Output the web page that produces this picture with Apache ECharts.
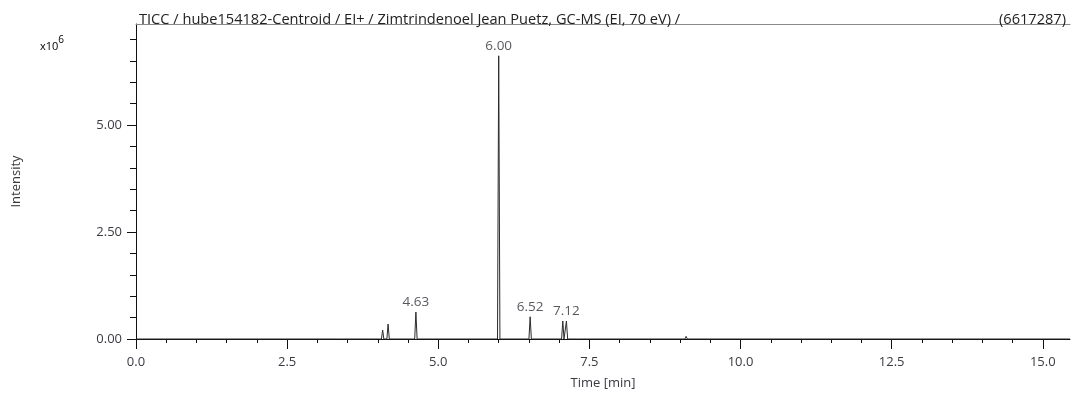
<!DOCTYPE html>
<html>
<head>
<meta charset="utf-8">
<script src="https://cdn.jsdelivr.net/npm/echarts@6/dist/echarts.min.js"></script>
<style>
  html, body { margin: 0; padding: 0; background: #fff; }
  #chart { width: 1071px; height: 399px; }
</style>
</head>
<body>
<div id="chart"></div>
<script>
// Total ion current trace: retention time (min) and intensity (counts)
const traceTime = [
  0.00, 3.36, 3.38, 3.40, 3.90, 3.92, 3.94,
  4.06, 4.08, 4.10, 4.15, 4.17, 4.19,
  4.61, 4.63, 4.65,
  5.98, 6.00, 6.02,
  6.50, 6.52, 6.54,
  7.04, 7.06, 7.08, 7.10, 7.12, 7.14,
  7.28, 7.30, 7.32,
  9.08, 9.10, 9.12,
  15.45
];
const traceIntensity = [
  0, 0, 30000, 0, 0, 20000, 0,
  0, 210000, 0, 0, 350000, 0,
  0, 630000, 0,
  0, 6617287, 0,
  0, 520000, 0,
  0, 420000, 0, 0, 420000, 0,
  0, 30000, 0,
  0, 60000, 0,
  0
];
// Peaks annotated with their retention time
const labelledPeaks = [4.63, 6.00, 6.52, 7.12];
const basePeakIntensity = 6617287;

// Axis ticks
const xMajorTicks = [0, 2.5, 5.0, 7.5, 10.0, 12.5, 15.0];
const xMinorTicks = [0.5, 1.0, 1.5, 2.0, 3.0, 3.5, 4.0, 4.5, 5.5, 6.0, 6.5, 7.0,
  8.0, 8.5, 9.0, 9.5, 10.5, 11.0, 11.5, 12.0, 13.0, 13.5, 14.0, 14.5];
const yMajorTicks = [0, 2.5e6, 5.0e6];
const yMinorTicks = [0.5e6, 1.0e6, 1.5e6, 2.0e6, 3.0e6, 3.5e6, 4.0e6, 4.5e6, 5.5e6, 6.0e6, 6.5e6, 7.0e6];

const X_MAX = 15.45;
const Y_MAX = 7.36e6;
const FONT = '"Open Sans", "Noto Sans", sans-serif';
const LABEL_COLOR = '#3a3a42';
const GRID_BOX = { left: 136, right: 1, top: 24, bottom: 60, containLabel: false };

// Apex points of the annotated peaks, taken from the trace
const peakLabelData = labelledPeaks.map(t => {
  const i = traceTime.indexOf(t);
  return [traceTime[i], traceIntensity[i]];
});

const chart = echarts.init(document.getElementById('chart'), null, { renderer: 'canvas' });

const axisX = (grid, extra) => Object.assign({
  type: 'value', min: 0, max: X_MAX, gridIndex: grid, splitLine: { show: false }
}, extra);
const axisY = (grid, extra) => Object.assign({
  type: 'value', min: 0, max: Y_MAX, gridIndex: grid, splitLine: { show: false }
}, extra);

chart.setOption({
  animation: false,
  backgroundColor: '#ffffff',
  textStyle: { fontFamily: FONT },
  title: [
    {
      text: 'TICC / hube154182-Centroid / EI+ / Zimtrindenoel Jean Puetz, GC-MS (EI, 70 eV) /',
      left: 134, top: 7,
      textStyle: { fontFamily: FONT, fontSize: 14.6, fontWeight: 'normal', color: '#222' }
    },
    {
      text: '(' + basePeakIntensity + ')',
      right: 0, top: 7,
      textStyle: { fontFamily: FONT, fontSize: 14.6, fontWeight: 'normal', color: '#222' }
    }
  ],
  // grid 0 carries the trace and major ticks, grid 1 (same box) the minor ticks
  grid: [Object.assign({}, GRID_BOX), Object.assign({}, GRID_BOX)],
  xAxis: [
    axisX(0, {
      position: 'bottom',
      name: 'Time [min]', nameLocation: 'middle', nameGap: 38,
      nameTextStyle: { fontFamily: FONT, fontSize: 13, color: LABEL_COLOR },
      axisLine: { show: true, onZero: false, lineStyle: { color: '#111', width: 1 } },
      axisTick: { show: true, inside: false, length: 10, customValues: xMajorTicks, lineStyle: { color: '#111' } },
      axisLabel: { show: true, margin: 17, customValues: xMajorTicks, fontSize: 13, color: LABEL_COLOR,
        formatter: v => v.toFixed(1) }
    }),
    axisX(0, {
      position: 'top',
      axisLine: { show: true, onZero: false, lineStyle: { color: '#8a8a8a', width: 1 } },
      axisTick: { show: false },
      axisLabel: { show: false }
    }),
    axisX(1, {
      position: 'bottom',
      axisLine: { show: false, onZero: false },
      axisTick: { show: true, inside: false, length: 4, customValues: xMinorTicks, lineStyle: { color: '#111' } },
      axisLabel: { show: false }
    })
  ],
  yAxis: [
    axisY(0, {
      position: 'left',
      name: 'Intensity', nameLocation: 'middle', nameGap: 113, nameRotate: 90,
      nameTextStyle: { fontFamily: FONT, fontSize: 13, color: LABEL_COLOR },
      axisLine: { show: true, onZero: false, lineStyle: { color: '#111', width: 1 } },
      axisTick: { show: true, inside: false, length: 9, customValues: yMajorTicks, lineStyle: { color: '#111' } },
      axisLabel: { show: true, margin: 14, customValues: yMajorTicks, fontSize: 13, color: LABEL_COLOR,
        formatter: v => (v / 1e6).toFixed(2) }
    }),
    axisY(1, {
      position: 'left',
      axisLine: { show: false, onZero: false },
      axisTick: { show: true, inside: false, length: 6, customValues: yMinorTicks, lineStyle: { color: '#111' } },
      axisLabel: { show: false }
    })
  ],
  graphic: [
    {
      type: 'text', left: 40, top: 35,
      style: {
        text: '{b|x10}{s|6}',
        rich: {
          b: { fontFamily: FONT, fontSize: 11, color: LABEL_COLOR, padding: [6, 0, 0, 0] },
          s: { fontFamily: FONT, fontSize: 10, color: LABEL_COLOR, verticalAlign: 'top', padding: [0, 0, 4, 0] }
        }
      }
    }
  ],
  series: [
    {
      type: 'line',
      xAxisIndex: 0, yAxisIndex: 0,
      data: traceTime.map((t, i) => [t, traceIntensity[i]]),
      showSymbol: false,
      symbol: 'none',
      lineStyle: { color: '#2b2b2b', width: 1 },
      z: 3
    },
    {
      type: 'scatter',
      xAxisIndex: 0, yAxisIndex: 0,
      data: peakLabelData,
      symbolSize: 0,
      silent: true,
      label: {
        show: true, position: 'top', distance: 3,
        fontFamily: FONT, fontSize: 13.5, color: '#2e2e34',
        formatter: p => p.value[0].toFixed(2)
      },
      labelLayout: { hideOverlap: false },
      z: 4
    },
    {
      // keeps grid 1 populated so its minor-tick axes are laid out
      type: 'line',
      xAxisIndex: 2, yAxisIndex: 1,
      data: [],
      silent: true
    }
  ]
});
</script>
</body>
</html>
